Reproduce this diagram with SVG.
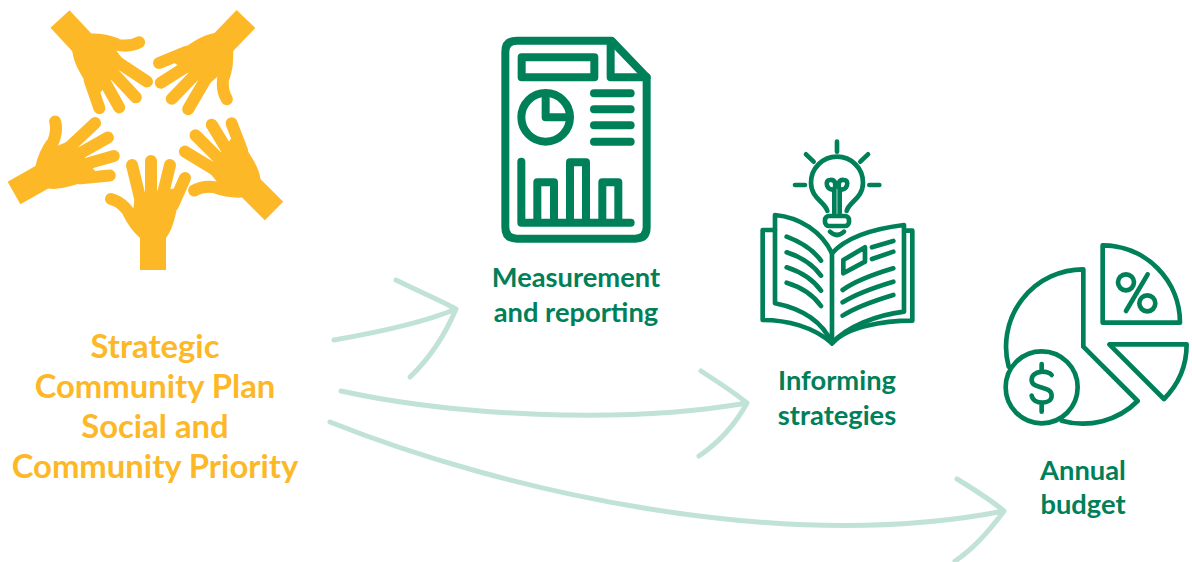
<svg xmlns="http://www.w3.org/2000/svg" xmlns:xlink="http://www.w3.org/1999/xlink" width="1192" height="562" viewBox="0 0 1192 562">
<style>
.y{fill:#FDB827}
.ys{fill:none;stroke:#FDB827;stroke-width:12;stroke-linecap:round;stroke-linejoin:round}
.g{fill:none;stroke:#008059;stroke-linecap:round;stroke-linejoin:round}
.arrow{fill:none;stroke:#C1E2D7;stroke-width:5;stroke-linecap:round;stroke-linejoin:round}
text{font-family:"Lato","Noto Sans",sans-serif;font-weight:700;text-anchor:middle}
.lg{fill:#FDB827;font-size:32.8px}
.lb{fill:#008059;font-size:27.3px}
</style>
<defs>
<g id="hand">
<rect class="y" x="-13" y="-35" width="26" height="35"/>
<path class="y" d="M-18,-76 L25,-82 L26,-70 L22,-53 Q19,-40 13,-32 L-13,-32 Q-24,-42 -30,-55 L-20,-58Z"/>
<path class="ys" d="M-21,-105 L-12,-68 M-2,-109 L-2,-68 M17,-105 L8,-68 M32,-92 L20,-65 M-42,-71 C-30,-68 -24,-58 -15,-45"/>
</g>
</defs>
<g id="community-hands">
<use xlink:href="#hand" href="#hand" transform="translate(153,270)"/>
<use xlink:href="#hand" href="#hand" transform="translate(274,211) rotate(-45)"/>
<use xlink:href="#hand" href="#hand" transform="translate(246,19) rotate(-136)"/>
<use xlink:href="#hand" href="#hand" transform="translate(60,19) rotate(137)"/>
<use xlink:href="#hand" href="#hand" transform="translate(14,193) rotate(60.5)"/>
<g><text class="lg" x="155" y="358">Strategic</text>
<text class="lg" x="155" y="398">Community Plan</text>
<text class="lg" x="155" y="438">Social and</text>
<text class="lg" x="155" y="478">Community Priority</text></g>
</g>
<g id="measurement">
<g class="g" stroke-width="24" transform="translate(480,20) scale(.3333)">
<path d="M395,62 H110 Q76,62 76,96 V622 Q76,656 110,656 H466 Q500,656 500,622 V172 Z"/>
<path d="M392,65 V172 H500"/>
<rect x="125" y="112" width="218" height="60"/>
<circle cx="197" cy="292" r="73"/>
<path d="M197,225 V292 H268"/>
<path d="M342,220 H452 M342,268 H452 M342,316 H452 M342,365 H452"/>
<path d="M124,425 V608 H452 M172,608 V487 H222 V608 M270,608 V427 H318 V608 M367,608 V487 H415 V608"/>
</g>
<text class="lb" x="576" y="287">Measurement</text>
<text class="lb" x="576" y="322">and reporting</text>
</g>
<g id="informing">
<g class="g" stroke-width="14" transform="translate(750,130) scale(.3333)">
<path d="M261,35 V65 M168,73 L191,95 M354,73 L331,95 M135,165 H165 M358,165 H388"/>
<path d="M232,243 C225,215 183,205 183,158 A78,78 0 1 1 339,158 C339,205 297,215 290,243"/>
<rect x="225" y="258" width="72" height="30" rx="12"/>
<path d="M240,305 Q261,325 282,305"/>
<path d="M253,250 V178 C230,185 222,150 240,150 C258,148 258,165 253,178 M269,250 V178 C292,185 300,150 282,150 C264,148 264,165 269,178"/>
<path d="M75,255 C150,262 215,305 246,370 V640 C215,570 150,535 75,520 Z"/>
<path d="M246,370 C290,320 380,295 462,285 V545 C380,555 290,590 246,640"/>
<path d="M75,300 H38 V570 C110,570 190,590 246,640 M466,302 H487 V572 C400,572 290,590 246,640"/>
<path d="M110,320 C150,335 190,360 213,392 M110,367 C150,380 190,405 213,437 M110,412 C150,425 190,450 213,482 M110,458 C150,470 190,495 213,528"/>
<path d="M278,480 C320,450 380,430 430,415 M278,517 C320,490 380,470 430,455 M278,557 C320,530 380,510 430,495 M366,352 L430,333 M366,387 L430,365"/>
<path d="M280,390 L345,352 V395 L280,430 Z"/>
</g>
<text class="lb" x="837" y="390">Informing</text>
<text class="lb" x="837" y="425">strategies</text>
</g>
<g id="budget">
<g class="g" stroke-width="14" transform="translate(990,230) scale(.3333)">
<path d="M338,46 V278 H570 A232,232 0 0 0 338,46 Z"/>
<path d="M56,410 A232,232 0 0 1 280,118 V350 L443,513 A232,232 0 0 1 215,572"/>
<path d="M358,343 H590 A232,232 0 0 1 522,507 Z"/>
<circle cx="155" cy="472" r="108"/>
<path d="M185,435 C175,420 125,420 125,450 C125,480 185,465 185,497 C185,525 130,525 125,497 M155,402 V420 M155,525 V545"/>
<circle cx="408" cy="157" r="24"/>
<circle cx="472" cy="220" r="24"/>
<path d="M473,133 L408,243"/>
</g>
<text class="lb" x="1083" y="480">Annual</text>
<text class="lb" x="1083" y="514">budget</text>
</g>
<g id="connectors">
<path class="arrow" d="M334,340 C380,332 425,322 456,309 M396,280 C420,292 440,300 456,309 C445,335 430,358 410,377"/>
<path class="arrow" d="M341,391 C450,415 620,425 747,403 M701,371 C718,382 735,393 747,403 C735,425 718,443 699,456"/>
<path class="arrow" d="M330,422 C500,490 780,555 1004,511 M957,479 C975,490 992,501 1004,511 C990,530 975,548 955,561"/>
</g>
</svg>
